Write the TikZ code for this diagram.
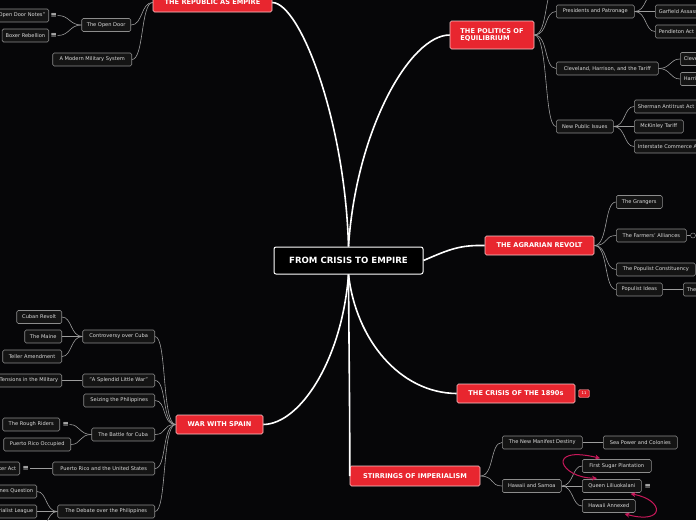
\documentclass[tikz,border=0pt]{standalone}
\usepackage{fontspec}
\setmainfont{DejaVu Sans}
\usetikzlibrary{arrows.meta}
\definecolor{bgdark}{HTML}{060608}
\definecolor{topicred}{HTML}{E8262F}
\definecolor{subfill}{HTML}{141414}
\definecolor{subline}{HTML}{8C8C8C}
\definecolor{subtext}{HTML}{DCDCDC}
\definecolor{relpink}{HTML}{C8185A}

\begin{document}
\begin{tikzpicture}[x=1pt,y=-1pt,
    central/.style={draw=white, line width=1pt, fill=black, rounded corners=2pt, text=white,
      font=\fontsize{8.6}{9.6}\selectfont\bfseries, minimum width=149pt, minimum height=27pt},
    topic/.style={draw=white!75!topicred, line width=0.6pt, fill=topicred, rounded corners=1.5pt,
      text=white, font=\fontsize{6.6}{7.9}\selectfont\bfseries, minimum height=19pt, inner xsep=4pt},
    sub/.style={draw=subline, line width=0.6pt, fill=subfill, rounded corners=1.5pt, text=subtext,
      font=\fontsize{5.1}{5.8}\selectfont, minimum height=13pt, inner xsep=3.5pt, inner ysep=0pt},
    badge/.style={draw=white!60!topicred, line width=0.4pt, fill=topicred, rounded corners=1.5pt,
      text=white, font=\fontsize{3.8}{4}\selectfont, minimum width=11pt, minimum height=8pt, inner sep=0pt},
    noteicon/.style={text=white, font=\fontsize{7.5}{7.5}\selectfont, inner sep=0.5pt},
    foldmark/.style={draw=subline, line width=0.5pt, circle, minimum size=5pt, inner sep=0pt},
    trunk/.style={draw=white, line width=1.6pt},
    link/.style={draw=subline!85!white, line width=0.6pt},
    rel/.style={draw=relpink, line width=1pt, {Stealth[length=5pt,width=5pt]}-{Stealth[length=5pt,width=5pt]}}
  ]
  \fill[bgdark] (0,0) rectangle (696,520);
  \useasboundingbox (0,0) rectangle (696,520);

  % centre and main topics
  \node[central] (root) at (348.5,260.5) {FROM CRISIS TO EMPIRE};
  \node[topic, minimum width=119pt] (republic) at (212.5,2.5) {THE REPUBLIC AS EMPIRE};
  \node[topic, minimum width=84pt, minimum height=28pt, align=left] (politics) at (492,35) {THE POLITICS OF\\EQUILIBRIUM};
  \node[topic, minimum width=109pt] (agrarian) at (539.5,245.5) {THE AGRARIAN REVOLT};
  \node[topic, minimum width=118pt] (crisis) at (516,393.5) {THE CRISIS OF THE 1890s};
  \node[badge] (count) at (584,393.5) {11};
  \node[topic, minimum width=130pt, minimum height=20pt] (stirrings) at (415,476) {STIRRINGS OF IMPERIALISM};
  \node[topic, minimum width=87pt] (war) at (219.5,424.5) {WAR WITH SPAIN};

  \draw[trunk] (root.north) .. controls (345,120) and (300,3) .. (republic.east);
  \draw[trunk] (root.north) .. controls (356,130) and (410,35) .. (politics.west);
  \draw[trunk] (root.east) .. controls (450,249) and (460,245) .. (agrarian.west);
  \draw[trunk] (root.south) .. controls (356,340) and (400,393) .. (crisis.west);
  \draw[trunk] (root.south) .. controls (349,350) and (350,430) .. (stirrings.west);
  \draw[trunk] (root.south) .. controls (342,360) and (300,424) .. (war.east);

  % the republic as empire
  \node[sub, anchor=east, minimum width=49pt] (opendoor) at (131,25) {The Open Door};
  \node[sub, anchor=east, minimum width=79pt] (military) at (132,59.5) {A Modern Military System};
  \node[sub, anchor=east] (doornotes) at (49,15.5) {"Open Door Notes"};
  \node[noteicon, right=0pt] (notesicon) at (50,15.5) {≡};
  \node[sub, anchor=east] (boxer) at (49,35.5) {Boxer Rebellion};
  \node[noteicon, right=0pt] (boxericon) at (50,35.5) {≡};
  \draw[link] (republic.west) .. controls +(-12,0) and +(12,0) .. (opendoor.east);
  \draw[link] (republic.west) .. controls +(-12,0) and +(12,0) .. (military.east);
  \draw[link] (opendoor.west) .. controls +(-12,0) and +(12,0) .. (notesicon.east);
  \draw[link] (opendoor.west) .. controls +(-12,0) and +(12,0) .. (boxericon.east);

  % the politics of equilibrium
  \coordinate (hiddentop) at (556,-14);
  \node[sub, anchor=west, minimum width=78pt] (patronage) at (556,11.5) {Presidents and Patronage};
  \node[sub, anchor=west] (garfield) at (655,11.5) {Garfield Assassinated};
  \node[sub, anchor=west] (pendleton) at (655,31.5) {Pendleton Act};
  \coordinate (hiddenpres) at (655,-8);
  \node[sub, anchor=west, minimum width=102pt] (tariff) at (556,68.5) {Cleveland, Harrison, and the Tariff};
  \node[sub, anchor=west] (cleveland) at (680,59) {Cleveland Elected};
  \node[sub, anchor=west] (harrison) at (680,79) {Harrison Elected};
  \node[sub, anchor=west, minimum width=57pt] (issues) at (556,126.5) {New Public Issues};
  \node[sub, anchor=west] (sherman) at (634,106.5) {Sherman Antitrust Act};
  \node[sub, anchor=west, minimum width=49pt] (mckinley) at (634,126.5) {McKinley Tariff};
  \node[sub, anchor=west] (interstate) at (634,146.5) {Interstate Commerce Act};
  \draw[link] (politics.east) .. controls +(14,0) and +(-12,0) .. (hiddentop);
  \draw[link] (politics.east) .. controls +(14,0) and +(-12,0) .. (patronage.west);
  \draw[link] (politics.east) .. controls +(14,0) and +(-12,0) .. (tariff.west);
  \draw[link] (politics.east) .. controls +(14,0) and +(-12,0) .. (issues.west);
  \draw[link] (patronage.east) .. controls +(12,0) and +(-10,0) .. (hiddenpres);
  \draw[link] (patronage.east) -- (garfield.west);
  \draw[link] (patronage.east) .. controls +(12,0) and +(-10,0) .. (pendleton.west);
  \draw[link] (tariff.east) .. controls +(12,0) and +(-10,0) .. (cleveland.west);
  \draw[link] (tariff.east) .. controls +(12,0) and +(-10,0) .. (harrison.west);
  \draw[link] (issues.east) .. controls +(12,0) and +(-10,0) .. (sherman.west);
  \draw[link] (issues.east) -- (mckinley.west);
  \draw[link] (issues.east) .. controls +(12,0) and +(-10,0) .. (interstate.west);

  % the agrarian revolt
  \node[sub, anchor=west, minimum width=46pt] (grangers) at (616,202) {The Grangers};
  \node[sub, anchor=west, minimum width=70pt] (alliances) at (616,235.5) {The Farmers' Alliances};
  \node[foldmark] (allfold) at (693,235.5) {};
  \node[sub, anchor=west, minimum width=79pt] (constituency) at (616,269.5) {The Populist Constituency};
  \node[sub, anchor=west, minimum width=46pt] (ideas) at (616,289.5) {Populist Ideas};
  \node[sub, anchor=west] (platform) at (683,289.5) {The Omaha Platform};
  \draw[link] (agrarian.east) .. controls +(14,0) and +(-12,0) .. (grangers.west);
  \draw[link] (agrarian.east) .. controls +(14,0) and +(-12,0) .. (alliances.west);
  \draw[link] (agrarian.east) .. controls +(14,0) and +(-12,0) .. (constituency.west);
  \draw[link] (agrarian.east) .. controls +(14,0) and +(-12,0) .. (ideas.west);
  \draw[link] (alliances.east) -- (allfold.west);
  \draw[link] (ideas.east) -- (platform.west);

  % stirrings of imperialism
  \node[sub, anchor=west, minimum width=80pt] (destiny) at (502,442.5) {The New Manifest Destiny};
  \node[sub, anchor=west, minimum width=74pt] (seapower) at (603,442.5) {Sea Power and Colonies};
  \node[sub, anchor=west, minimum width=59pt] (hawaii) at (502,486) {Hawaii and Samoa};
  \node[sub, anchor=west, minimum width=69pt] (sugar) at (582,466) {First Sugar Plantation};
  \node[sub, anchor=west, minimum width=59pt] (queen) at (582,486) {Queen Liliuokalani};
  \node[noteicon, right=0pt] (queenicon) at (644,486) {≡};
  \node[sub, anchor=west, minimum width=53pt] (annexed) at (582,506) {Hawaii Annexed};
  \draw[link] (stirrings.east) .. controls +(14,0) and +(-12,0) .. (destiny.west);
  \draw[link] (stirrings.east) .. controls +(14,0) and +(-12,0) .. (hawaii.west);
  \draw[link] (destiny.east) -- (seapower.west);
  \draw[link] (hawaii.east) .. controls +(12,0) and +(-10,0) .. (sugar.west);
  \draw[link] (hawaii.east) -- (queen.west);
  \draw[link] (hawaii.east) .. controls +(12,0) and +(-10,0) .. (annexed.west);
  \draw[rel] ([xshift=18pt,yshift=1pt]sugar.north west) .. controls (545,445) and (560,478) .. ([xshift=15pt,yshift=1pt]queen.north west);
  \draw[rel] ([xshift=-11pt,yshift=-1pt]queen.south east) .. controls (665,500) and (665,525) .. ([xshift=-11pt,yshift=-1pt]annexed.south east);

  % war with spain
  \node[sub, anchor=east, minimum width=72pt] (cuba) at (155,336.5) {Controversy over Cuba};
  \node[sub, anchor=east, minimum width=45pt] (revolt) at (62,317) {Cuban Revolt};
  \node[sub, anchor=east, minimum width=37pt] (maine) at (62,336.5) {The Maine};
  \node[sub, anchor=east, minimum width=59pt] (teller) at (62,356.5) {Teller Amendment};
  \node[sub, anchor=east, minimum width=72pt] (splendid) at (155,380.5) {"A Splendid Little War"};
  \node[sub, anchor=east] (tensions) at (62,380.5) {Tensions in the Military};
  \node[sub, anchor=east, minimum width=71pt] (seizing) at (155,400.5) {Seizing the Philippines};
  \node[sub, anchor=east, minimum width=63pt] (battle) at (155,434.5) {The Battle for Cuba};
  \node[sub, anchor=east, minimum width=57pt] (riders) at (60,424.5) {The Rough Riders};
  \node[noteicon, right=0pt] (ridersicon) at (62,424.5) {≡};
  \node[sub, anchor=east, minimum width=67pt] (occupied) at (71,444.5) {Puerto Rico Occupied};
  \node[sub, anchor=east, minimum width=102pt] (puerto) at (155,468.5) {Puerto Rico and the United States};
  \node[sub, anchor=east] (foraker) at (20,468.5) {Foraker Act};
  \node[noteicon, right=0pt] (forakericon) at (22,468.5) {≡};
  \node[sub, anchor=east, minimum width=97pt] (debate) at (155,511.5) {The Debate over the Philippines};
  \node[sub, anchor=east] (question) at (37,491.5) {The Philippines Question};
  \node[sub, anchor=east] (league) at (37,511.5) {Anti-Imperialist League};
  \coordinate (hiddenleft) at (37,535);
  \draw[link] (war.west) .. controls +(-14,0) and +(12,0) .. (cuba.east);
  \draw[link] (war.west) .. controls +(-14,0) and +(12,0) .. (splendid.east);
  \draw[link] (war.west) .. controls +(-14,0) and +(12,0) .. (seizing.east);
  \draw[link] (war.west) .. controls +(-14,0) and +(12,0) .. (battle.east);
  \draw[link] (war.west) .. controls +(-14,0) and +(12,0) .. (puerto.east);
  \draw[link] (war.west) .. controls +(-14,0) and +(12,0) .. (debate.east);
  \draw[link] (cuba.west) .. controls +(-12,0) and +(10,0) .. (revolt.east);
  \draw[link] (cuba.west) -- (maine.east);
  \draw[link] (cuba.west) .. controls +(-12,0) and +(10,0) .. (teller.east);
  \draw[link] (splendid.west) -- (tensions.east);
  \draw[link] (battle.west) .. controls +(-12,0) and +(10,0) .. (ridersicon.east);
  \draw[link] (battle.west) .. controls +(-12,0) and +(10,0) .. (occupied.east);
  \draw[link] (puerto.west) -- (forakericon.east);
  \draw[link] (debate.west) .. controls +(-12,0) and +(10,0) .. (question.east);
  \draw[link] (debate.west) -- (league.east);
  \draw[link] (debate.west) .. controls +(-12,0) and +(10,0) .. (hiddenleft);
\end{tikzpicture}
\end{document}
